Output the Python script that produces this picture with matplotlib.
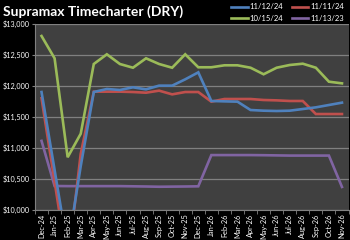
import matplotlib
matplotlib.use("Agg")
import matplotlib.pyplot as plt
from matplotlib.ticker import FuncFormatter, MultipleLocator
import numpy as np

plt.rcParams['font.family'] = ['Lato', 'DejaVu Sans']

months = ["Dec-24", "Jan-25", "Feb-25", "Mar-25", "Apr-25", "May-25", "Jun-25", "Jul-25",
          "Aug-25", "Sep-25", "Oct-25", "Nov-25", "Dec-25", "Jan-26", "Feb-26", "Mar-26",
          "Apr-26", "May-26", "Jun-26", "Jul-26", "Aug-26", "Sep-26", "Oct-26", "Nov-26"]

s_111224 = [11900, 10640, 9370, 10700, 11900, 11949, 11933, 11976, 11943, 12003, 12003, 12105,
            12218, 11755, 11749, 11744, 11609, 11598, 11593, 11598, 11625, 11652, 11690, 11728]
s_111124 = [11800, 10450, 9100, 10900, 11906, 11906, 11906, 11900, 11889, 11922, 11862, 11900,
            11900, 11744, 11787, 11787, 11787, 11771, 11765, 11755, 11755, 11544, 11544, 11544]
s_101524 = [12806, 12445, 10845, 11225, 12353, 12510, 12353, 12293, 12445, 12353, 12293, 12510,
            12300, 12300, 12332, 12332, 12293, 12187, 12293, 12337, 12358, 12293, 12067, 12040]
s_111323 = [11110, 10380, 10378, 10378, 10378, 10378, 10378, 10375, 10372, 10368, 10370, 10372,
            10375, 10880, 10880, 10880, 10880, 10878, 10875, 10872, 10872, 10872, 10872, 10365]

series = [("11/12/24", s_111224, "#4F81BD"),
          ("10/15/24", s_101524, "#9BBB59"),
          ("11/11/24", s_111124, "#C0504D"),
          ("11/13/23", s_111323, "#8064A2")]

fig = plt.figure(figsize=(3.5, 2.4), dpi=100, facecolor="black")
ax = fig.add_axes([35/350, 1 - 209.5/240, (348.5-35)/350, (209.5-24)/240])
ax.set_facecolor("#404040")

x = np.arange(len(months))
zorders = {"11/12/24": 5, "11/11/24": 4, "10/15/24": 3, "11/13/23": 2}
handles = {}
for name, vals, col in series:
    ln, = ax.plot(x, vals, color=col, lw=1.9, solid_joinstyle="miter", zorder=zorders[name], label=name)
    handles[name] = ln

ax.set_xlim(-0.5, len(months) - 0.5)
ax.set_ylim(10000, 13000)
ax.yaxis.set_major_locator(MultipleLocator(500))
ax.yaxis.set_major_formatter(FuncFormatter(lambda v, p: f"${v:,.0f}"))
ax.grid(axis="y", color="#808080", lw=0.9, zorder=1)
ax.set_axisbelow(True)

ax.set_xticks(x)
ax.set_xticklabels(months, rotation=90, fontsize=5.3, color="white")
ax.set_xticks(np.arange(-0.5, len(months)), minor=True)
ax.tick_params(axis="x", which="major", length=0, pad=3)
ax.tick_params(axis="x", which="minor", length=3, color="#808080", direction="out")
ax.tick_params(axis="y", labelsize=5.2, labelcolor="white", length=2.5, color="#808080", pad=1.5)

for sp in ["top", "right"]:
    ax.spines[sp].set_visible(False)
ax.spines["left"].set_color("#808080")
ax.spines["bottom"].set_color("#808080")

fig.text(0.008, 0.95, "Supramax Timecharter (DRY)", color="white", fontsize=10,
         fontweight="bold", ha="left", va="center")

order = ["11/12/24", "10/15/24", "11/11/24", "11/13/23"]
leg = fig.legend([handles[n] for n in order], order, ncol=2, loc="upper right",
                 bbox_to_anchor=(0.995, 1.005), frameon=False, fontsize=5.5,
                 handlelength=2.2, handletextpad=0.2, columnspacing=1.1,
                 labelspacing=0.6, borderaxespad=0.2)
for t in leg.get_texts():
    t.set_color("white")

fig.savefig("out.png", dpi=100, facecolor="black")
